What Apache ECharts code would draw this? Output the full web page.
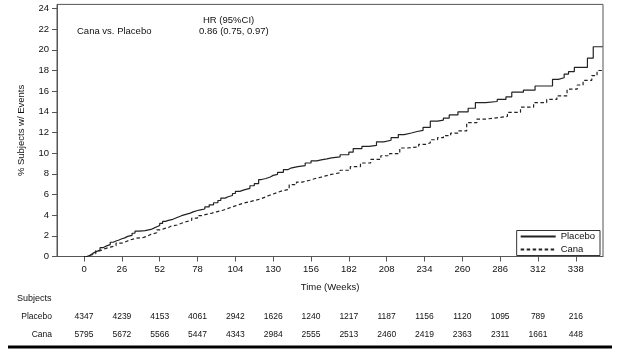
<!DOCTYPE html>
<html>
<head>
<meta charset="utf-8">
<script src="https://cdn.jsdelivr.net/npm/echarts@6/dist/echarts.min.js"></script>
<style>html,body{margin:0;padding:0;background:#fff}#c{width:618px;height:360px}</style>
</head>
<body>
<div id="c"></div>
<script>
// ---- data ----
const weekTicks = [0, 26, 52, 78, 104, 130, 156, 182, 208, 234, 260, 286, 312, 338];
const yTicks = [0, 2, 4, 6, 8, 10, 12, 14, 16, 18, 20, 22, 24];
const placeboRisk = [4347, 4239, 4153, 4061, 2942, 1626, 1240, 1217, 1187, 1156, 1120, 1095, 789, 216];
const canaRisk = [5795, 5672, 5566, 5447, 4343, 2984, 2555, 2513, 2460, 2419, 2363, 2311, 1661, 448];
const placeboWeeks = [0, 2, 4, 6, 8, 11, 13, 15, 18, 20, 22, 24, 26, 28, 30, 33, 35, 38, 42, 46, 48, 50, 52, 54, 56, 58, 61, 64, 67, 70, 73, 75, 78, 80, 83, 86, 89, 92, 94, 97, 99, 102, 104, 107, 110, 114, 117, 120, 122, 125, 128, 130, 133, 137, 140, 142, 147, 152, 156, 160, 163, 167, 170, 176, 182, 185, 191, 196, 201, 206, 211, 216, 220, 225, 229, 233, 238, 243, 247, 251, 257, 264, 269, 276, 284, 290, 294, 302, 310, 322, 326, 330, 333, 337, 346, 350, 356.5];
const placeboPct = [0, 0.12, 0.3, 0.45, 0.62, 0.85, 1.0, 1.15, 1.38, 1.5, 1.6, 1.72, 1.8, 1.95, 2.05, 2.25, 2.45, 2.5, 2.62, 2.75, 2.88, 3.0, 3.2, 3.4, 3.5, 3.6, 3.78, 3.95, 4.08, 4.2, 4.32, 4.45, 4.52, 4.6, 4.8, 5.0, 5.2, 5.42, 5.65, 5.78, 5.9, 6.1, 6.3, 6.45, 6.6, 6.85, 7.05, 7.45, 7.55, 7.7, 7.85, 7.95, 8.15, 8.4, 8.55, 8.7, 8.8, 9.05, 9.25, 9.35, 9.45, 9.55, 9.65, 9.85, 10.1, 10.45, 10.65, 10.75, 11.1, 11.25, 11.5, 11.8, 11.95, 12.1, 12.2, 12.5, 13.1, 13.2, 13.4, 13.7, 14.0, 14.35, 14.9, 15.0, 15.2, 15.45, 15.9, 16.1, 16.5, 17.15, 17.3, 17.65, 17.9, 18.3, 19.2, 20.3, 20.3];
const canaWeeks = [0, 2, 4.4, 8, 11, 14, 18, 22, 26, 29, 32, 36, 41, 44, 46, 50, 53, 55, 58, 60, 64, 67, 70, 74, 78, 81, 84, 88, 91, 95, 98, 101, 104, 107, 110, 114, 117, 121, 124, 127, 130, 133, 136, 141, 146, 150, 155, 159, 163, 166, 170, 176, 183, 190, 197, 204, 210, 217, 222, 230, 235, 238, 243, 247, 252, 257, 263, 270, 276, 282, 291, 300, 309, 318, 325, 332, 339, 343, 349, 352.6, 356.5];
const canaPct = [0, 0.12, 0.26, 0.55, 0.74, 0.9, 1.06, 1.3, 1.45, 1.62, 1.77, 1.85, 2.0, 2.15, 2.3, 2.58, 2.7, 2.8, 2.95, 3.05, 3.22, 3.36, 3.5, 3.72, 3.95, 4.08, 4.2, 4.32, 4.45, 4.6, 4.75, 4.9, 5.05, 5.18, 5.3, 5.42, 5.55, 5.72, 5.9, 6.05, 6.2, 6.35, 6.5, 6.95, 7.2, 7.38, 7.55, 7.68, 7.8, 7.95, 8.1, 8.35, 8.7, 9.05, 9.4, 9.75, 9.95, 10.5, 10.6, 10.85, 11.0, 11.3, 11.5, 11.7, 11.95, 12.15, 12.95, 13.3, 13.4, 13.55, 13.95, 14.45, 14.9, 15.2, 15.55, 16.2, 16.6, 17.05, 17.5, 18.0, 18.0];

const FONT = '"Liberation Sans", Arial, sans-serif';
const TXT = '#111';
const xMin = -18.6, xMax = 356.7;

function riskAxis(values, offset) {
  return {
    type: 'value', gridIndex: 0, position: 'bottom', offset: offset,
    min: xMin, max: xMax,
    axisLine: {show: false}, axisTick: {show: false}, splitLine: {show: false},
    axisLabel: {
      customValues: weekTicks, margin: 0, fontSize: 8.5, fontFamily: FONT, color: TXT,
      formatter: v => { const i = weekTicks.indexOf(v); return i >= 0 ? String(values[i]) : ''; }
    }
  };
}

const chart = echarts.init(document.getElementById('c'), null, {renderer: 'canvas'});
chart.setOption({
  animation: false,
  backgroundColor: '#fff',
  textStyle: {fontFamily: FONT},
  grid: {left: 57, right: 15, top: 4.4, bottom: 103.5, show: true, borderColor: '#555', borderWidth: 1, backgroundColor: 'transparent'},
  xAxis: [
    {
      type: 'value', min: xMin, max: xMax,
      name: 'Time (Weeks)', nameLocation: 'middle', nameGap: 26,
      nameTextStyle: {fontSize: 9.5, color: TXT, fontFamily: FONT},
      axisLine: {show: true, onZero: false, lineStyle: {color: '#555', width: 1}},
      axisTick: {show: true, customValues: weekTicks, length: 5, lineStyle: {color: '#555'}},
      axisLabel: {customValues: weekTicks, margin: 8, fontSize: 9.5, color: TXT, fontFamily: FONT},
      splitLine: {show: false}
    },
    riskAxis(placeboRisk, 56),
    riskAxis(canaRisk, 74)
  ],
  yAxis: {
    type: 'value', min: 0, max: 24.4, interval: 2,
    name: '% Subjects w/ Events', nameLocation: 'middle', nameGap: 31, nameRotate: 90,
    nameTextStyle: {fontSize: 9.5, color: TXT, fontFamily: FONT},
    axisLine: {show: true, onZero: false, lineStyle: {color: '#555', width: 1}},
    axisTick: {show: true, customValues: yTicks, length: 5, lineStyle: {color: '#555'}},
    axisLabel: {customValues: yTicks, margin: 8, fontSize: 9.5, color: TXT, fontFamily: FONT,
      formatter: v => (v % 2 === 0 ? String(v) : '')},
    splitLine: {show: false}
  },
  legend: {
    orient: 'vertical', right: 18, top: 230.5,
    itemWidth: 35, itemHeight: 10, itemGap: 3,
    padding: [1, 5, 1, 3],
    borderColor: '#333', borderWidth: 1,
    itemStyle: {color: 'transparent', borderWidth: 0, opacity: 0},
    textStyle: {fontSize: 9.5, color: TXT, fontFamily: FONT},
    data: ['Placebo', 'Cana']
  },
  series: [
    {
      name: 'Placebo', type: 'line', step: 'end', showSymbol: false, symbol: 'none',
      data: placeboWeeks.map((w, i) => [w, placeboPct[i]]),
      lineStyle: {color: '#222', width: 1.2, type: 'solid'},
      itemStyle: {color: '#222'}
    },
    {
      name: 'Cana', type: 'line', step: 'end', showSymbol: false, symbol: 'none',
      data: canaWeeks.map((w, i) => [w, canaPct[i]]),
      lineStyle: {color: '#222', width: 1.2, type: [3.5, 2.5]},
      itemStyle: {color: '#222'}
    }
  ],
  graphic: [
    {type: 'text', left: 77, top: 26.5, style: {text: 'Cana vs. Placebo', font: '9.5px ' + FONT, fill: TXT}},
    {type: 'text', left: 203, top: 15.5, style: {text: 'HR (95%CI)', font: '9.5px ' + FONT, fill: TXT}},
    {type: 'text', left: 199, top: 26.5, style: {text: '0.86 (0.75, 0.97)', font: '9.5px ' + FONT, fill: TXT}},
    {type: 'text', left: 17, top: 294, style: {text: 'Subjects', font: '9px ' + FONT, fill: TXT}},
    {type: 'text', right: 566, top: 312.5, style: {text: 'Placebo', font: '8.5px ' + FONT, fill: TXT}},
    {type: 'text', right: 566, top: 330.5, style: {text: 'Cana', font: '8.5px ' + FONT, fill: TXT}},
    {type: 'line', shape: {x1: 8, y1: 347, x2: 612, y2: 347}, style: {stroke: '#000', lineWidth: 3}}
  ]
});
</script>
</body>
</html>
